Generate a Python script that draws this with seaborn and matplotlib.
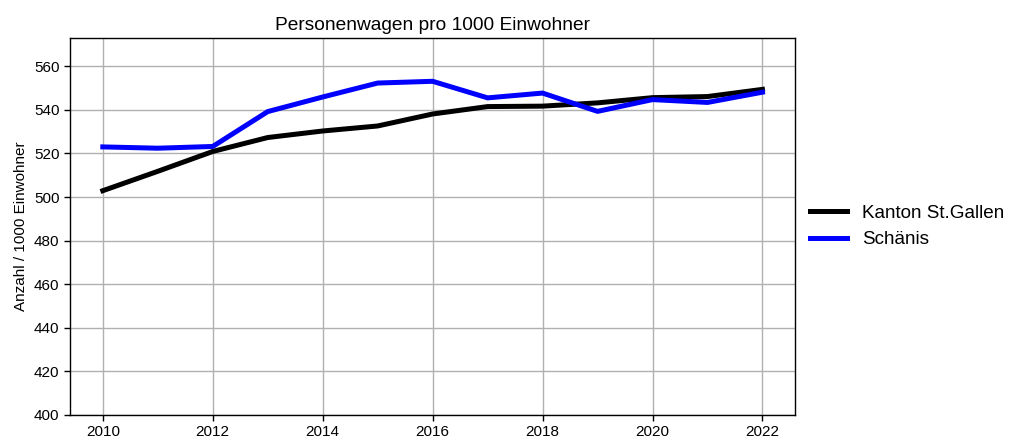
import matplotlib.pyplot as plt
import pandas as pd
import seaborn as sns

years = list(range(2010, 2023))
kanton = [502.9, 511.8, 520.9, 527.3, 530.3, 532.6, 538.1, 541.5, 541.7, 543.2, 545.6, 546.1, 549.4]
schaenis = [523.0, 522.4, 523.2, 539.2, 545.9, 552.3, 553.1, 545.5, 547.7, 539.3, 544.7, 543.4, 548.1]
labels = ["Kanton St.Gallen", "Schänis"]

df = pd.DataFrame({
    "Jahr": years * 2,
    "Wert": kanton + schaenis,
    "Gebiet": [labels[0]] * len(years) + [labels[1]] * len(years),
})

sns.set_style("ticks")
plt.rcParams["font.family"] = ["Liberation Sans", "DejaVu Sans"]
plt.rcParams["text.color"] = "black"
plt.rcParams["axes.labelcolor"] = "black"

fig = plt.figure(figsize=(10.12, 4.41), dpi=100)
ax = fig.add_axes([0.069, 0.059, 0.717, 0.855])

sns.lineplot(data=df, x="Jahr", y="Wert", hue="Gebiet",
             palette={labels[0]: "black", labels[1]: "blue"},
             linewidth=3.6, ax=ax)
for ln in ax.get_lines():
    ln.set_solid_capstyle("projecting")

ax.set_ylim(400, 573)
ax.set_xticks(range(2010, 2023, 2))
ax.set_yticks(range(400, 561, 20))
ax.grid(True, color="#b0b0b0", linewidth=1)
ax.set_axisbelow(True)
for s in ax.spines.values():
    s.set_color("black")
    s.set_linewidth(1)
ax.tick_params(labelsize=11, colors="black", length=4, width=1)
ax.set_xlabel("")
ax.set_ylabel("Anzahl / 1000 Einwohner", fontsize=11)
ax.set_title("Personenwagen pro 1000 Einwohner", fontsize=13.8, color="black")

leg = ax.legend(loc="center left", bbox_to_anchor=(0.996, 0.5), frameon=False,
                fontsize=13.6, title=None, handlelength=2.0)
for h in leg.get_lines():
    h.set_linewidth(3.6)
    h.set_solid_capstyle("projecting")

fig.savefig("out.png", dpi=100)
